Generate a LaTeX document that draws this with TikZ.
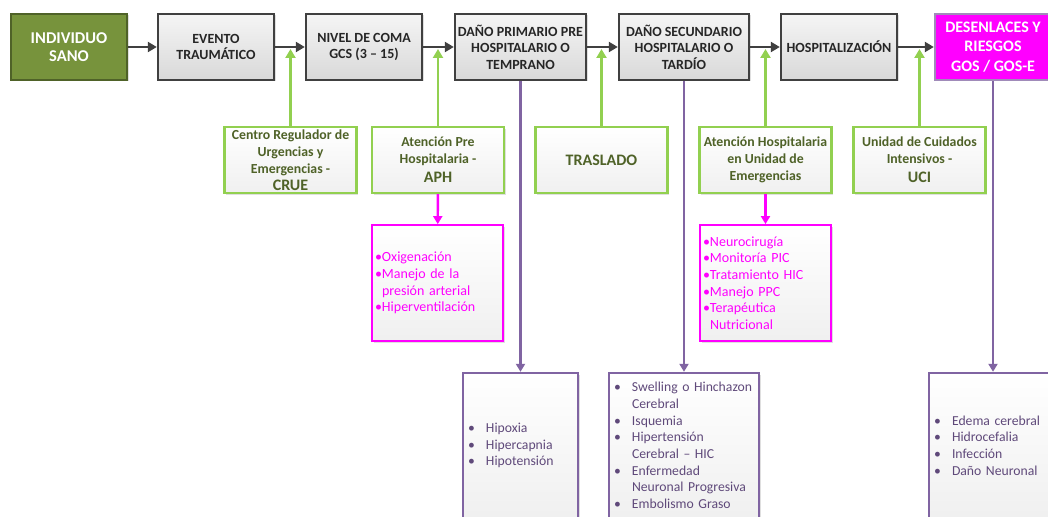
\documentclass[tikz,border=0pt]{standalone}
\usepackage{fontspec}
\setmainfont{Carlito}
\usetikzlibrary{arrows.meta,shadows}
\definecolor{darkline}{HTML}{404040}
\definecolor{olivefill}{HTML}{77933C}
\definecolor{oliveline}{HTML}{4F6228}
\definecolor{olivetext}{HTML}{4F6228}
\definecolor{lightgreen}{HTML}{92D050}
\definecolor{lilac}{HTML}{8064A2}
\definecolor{purpletext}{HTML}{5F497A}
\definecolor{pink}{HTML}{FF00FF}
\newcommand{\riskitem}{\makebox[18pt][l]{\textbullet}}
\newcommand{\riskmore}{\hspace*{18pt}}
\newcommand{\careitem}{\makebox[7pt][l]{\textbullet}}
\newcommand{\caremore}{\hspace*{7pt}}
\tikzset{
  softshadow/.style={drop shadow={shadow xshift=1.5pt,shadow yshift=-1.5pt,opacity=.25}},
  stagebox/.style={draw=darkline, line width=2.4pt, top color=gray!8, bottom color=gray!30,
    minimum width=116pt, minimum height=66pt, align=center, inner sep=1pt,
    font=\bfseries\fontsize{14}{16.5}\selectfont, text=black!85, softshadow},
  carebox/.style={draw=lightgreen, line width=2.4pt, top color=white, bottom color=gray!12,
    minimum width=132pt, minimum height=66pt, align=center, inner sep=1pt,
    text=olivetext, font=\bfseries\fontsize{13.8}{17}\selectfont, softshadow},
  actionbox/.style={draw=pink, line width=1.8pt, top color=white, bottom color=gray!12,
    minimum height=116pt, text width=125pt, align=left, inner xsep=3pt,
    text=pink, font=\fontsize{14}{16.7}\selectfont, softshadow},
  riskbox/.style={draw=lilac, line width=2.4pt, top color=white, bottom color=gray!12,
    minimum height=145pt, align=left, inner xsep=5pt,
    text=purpletext, font=\fontsize{13.7}{16.7}\selectfont, softshadow},
  flow/.style={draw=darkline, line width=2.6pt, -{Triangle[length=9pt,width=10pt]}},
  support/.style={draw=lightgreen, line width=2.4pt, -{Triangle[length=9pt,width=10pt]}, shorten >=2pt},
  careline/.style={draw=pink, line width=2.4pt, -{Triangle[length=8pt,width=9pt]}},
  riskline/.style={draw=lilac, line width=2.4pt, -{Triangle[length=8pt,width=9pt]}}
}
\begin{document}
\begin{tikzpicture}[x=1pt,y=-1pt]
    \useasboundingbox (0,0) rectangle (1048,516);
    \clip (0,0) rectangle (1048,516);
    % top row
    \node[stagebox, draw=oliveline, fill=olivefill, top color=olivefill, bottom color=olivefill, text=white,
          font=\bfseries\fontsize{16.5}{17.5}\selectfont] (sano) at (69,47) {INDIVIDUO\\SANO};
    \node[stagebox] (evento) at (216,47) {EVENTO\\TRAUMÁTICO};
    \node[stagebox] (coma) at (364,47) {NIVEL DE COMA\\GCS (3 – 15)};
    \node[stagebox, minimum width=131pt] (primario) at (520.5,47) {DAÑO PRIMARIO PRE\\HOSPITALARIO O\\TEMPRANO};
    \node[stagebox, minimum width=130pt] (secundario) at (684,47) {DAÑO SECUNDARIO\\HOSPITALARIO O\\TARDÍO};
    \node[stagebox] (hospital) at (839,47) {HOSPITALIZACIÓN};
    \node[stagebox, draw=lilac!75, top color=pink, bottom color=pink, text=white,
          font=\bfseries\fontsize{16}{19.5}\selectfont] (desenlace) at (993,47) {DESENLACES Y\\RIESGOS\\GOS / GOS-E};
    \draw[flow] (sano) -- (evento);
    \draw[flow] (evento) -- (coma);
    \draw[flow] (coma) -- (primario);
    \draw[flow] (primario) -- (secundario);
    \draw[flow] (secundario) -- (hospital);
    \draw[flow] (hospital) -- (desenlace);
    % support boxes
    \node[carebox] (crue) at (290.5,160) {Centro Regulador de\\Urgencias y\\Emergencias -\\{\fontsize{16}{17}\selectfont CRUE}};
    \node[carebox] (aph) at (438,160) {Atención Pre\\Hospitalaria -\\[2pt]{\fontsize{16}{17}\selectfont APH}};
    \node[carebox, font=\bfseries\fontsize{16}{17}\selectfont] (traslado) at (601.5,160) {TRASLADO};
    \node[carebox] (urgencias) at (765.5,160) {Atención Hospitalaria\\en Unidad de\\Emergencias};
    \node[carebox] (uci) at (919.5,160) {Unidad de Cuidados\\Intensivos -\\[2pt]{\fontsize{16}{17}\selectfont UCI}};
    \draw[support] (crue.north) -- (crue.north |- evento.east);
    \draw[support] (aph.north) -- (aph.north |- coma.east);
    \draw[support] (traslado.north) -- (traslado.north |- primario.east);
    \draw[support] (urgencias.north) -- (urgencias.north |- secundario.east);
    \draw[support] (uci.north) -- (uci.north |- hospital.east);
    % actions
    \node[actionbox] (prehosp) at (437.5,283) {\careitem Oxigenación\\\careitem Manejo de la\\\caremore presión arterial\\\careitem Hiperventilación};
    \node[actionbox] (intrahosp) at (765.5,283) {\careitem Neurocirugía\\\careitem Monitoría PIC\\\careitem Tratamiento HIC\\\careitem Manejo PPC\\\careitem Terapéutica\\\caremore Nutricional};
    \draw[careline] (aph) -- (prehosp);
    \draw[careline] (urgencias) -- (intrahosp);
    % risks
    \node[riskbox, text width=105pt] (riesgo1) at (520.5,445.5) {\riskitem Hipoxia\\\riskitem Hipercapnia\\\riskitem Hipotensión};
    \node[riskbox, text width=140pt] (riesgo2) at (684,445.5) {\riskitem Swelling o Hinchazon\\\riskmore Cerebral\\\riskitem Isquemia\\\riskitem Hipertensión\\\riskmore Cerebral – HIC\\\riskitem Enfermedad\\\riskmore Neuronal Progresiva\\\riskitem Embolismo Graso};
    \node[riskbox, text width=118pt] (riesgo3) at (993,445.5) {\riskitem Edema cerebral\\\riskitem Hidrocefalia\\\riskitem Infección\\\riskitem Daño Neuronal};
    \draw[riskline] (primario) -- (riesgo1);
    \draw[riskline] (secundario) -- (riesgo2);
    \draw[riskline] (desenlace) -- (riesgo3);
\end{tikzpicture}
\end{document}
